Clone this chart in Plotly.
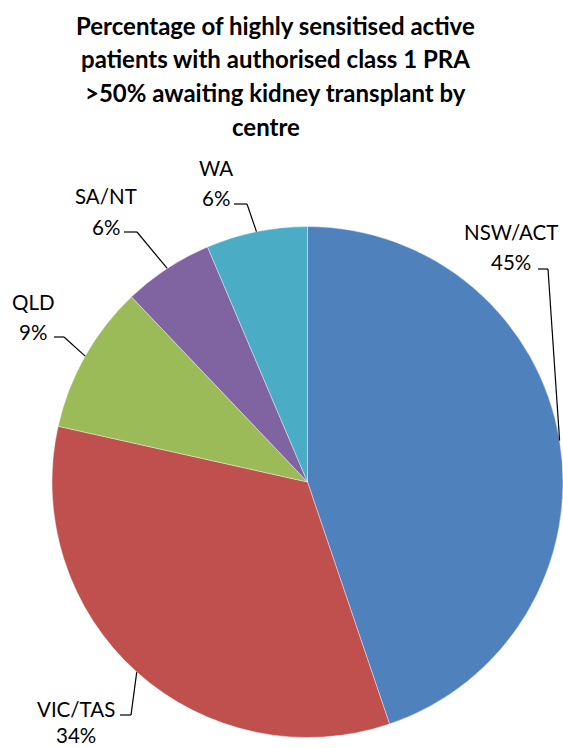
import math
import plotly.graph_objects as go

# ---- data ----
centres = ["NSW/ACT", "VIC/TAS", "QLD", "SA/NT", "WA"]
shares = [44.8, 33.7, 9.4, 5.7, 6.4]
colors = ["#4F81BD", "#C0504D", "#9BBB59", "#8064A2", "#4BACC6"]
title_lines = ["Percentage of highly sensitised active",
               "patients with authorised class 1 PRA",
               ">50% awaiting kidney transplant by",
               "centre"]

W, H = 563, 748
FONT = "Lato"

# pie domain in pixels
dom_left, dom_right = 52, 563
dom_top, dom_bottom = 224, 740
cx = (dom_left + dom_right) / 2
cy = (dom_top + dom_bottom) / 2
r = min(dom_right - dom_left, dom_bottom - dom_top) / 2

def px(x):
    return x / W

def py(y):
    return 1 - y / H

fig = go.Figure(go.Pie(
    labels=centres, values=shares, sort=False, direction="clockwise",
    rotation=0, textinfo="none", hoverinfo="label+percent",
    marker=dict(colors=colors, line=dict(color="rgba(255,255,255,0.55)", width=0.7)),
    domain=dict(x=[px(dom_left), px(dom_right)], y=[py(dom_bottom), py(dom_top)]),
    showlegend=False,
))

# label placement (pixel positions: name centre, pct centre, elbow y, horizontal start/end x)
label_pos = {
    "NSW/ACT": dict(tx=511, ny=232, pcy=262, ey=269, hx0=538, hx1=548),
    "VIC/TAS": dict(tx=76, ny=709, pcy=735, ey=715, hx0=120, hx1=131),
    "QLD": dict(tx=33, ny=302, pcy=332, ey=337, hx0=54, hx1=64),
    "SA/NT": dict(tx=106, ny=196, pcy=227, ey=232, hx0=124, hx1=137),
    "WA": dict(tx=216, ny=168, pcy=198, ey=204, hx0=234, hx1=247),
}

total = sum(shares)
cum = 0.0
annotations = []
shapes = []
for name, v in zip(centres, shares):
    theta = 2 * math.pi * (cum + v / 2) / total
    cum += v
    ax_ = cx + r * math.sin(theta)
    ay_ = cy - r * math.cos(theta)
    p = label_pos[name]
    pct = f"{round(100 * v / total)}%"
    annotations.append(dict(x=px(p["tx"]), y=py(p["ny"]), xref="paper", yref="paper",
                            text=name, showarrow=False, xanchor="center", yanchor="middle",
                            font=dict(family=FONT, size=20.5, color="#000")))
    annotations.append(dict(x=px(p["tx"]), y=py(p["pcy"]), xref="paper", yref="paper",
                            text=pct, showarrow=False, xanchor="center", yanchor="middle",
                            font=dict(family=FONT, size=20.5, color="#000")))
    shapes.append(dict(type="line", xref="paper", yref="paper",
                       x0=px(p["hx0"]), y0=py(p["ey"]), x1=px(p["hx1"]), y1=py(p["ey"]),
                       line=dict(color="#000", width=1.2)))
    shapes.append(dict(type="line", xref="paper", yref="paper",
                       x0=px(p["hx1"]), y0=py(p["ey"]), x1=px(ax_), y1=py(ay_),
                       line=dict(color="#000", width=1.2)))

title_y = [25, 59, 93, 126]
title_x = [275, 275, 275, 266]
for t, ty, tx in zip(title_lines, title_y, title_x):
    annotations.append(dict(x=px(tx), y=py(ty), xref="paper", yref="paper", text=f"<b>{t}</b>",
                            showarrow=False, xanchor="center", yanchor="middle",
                            font=dict(family=FONT, size=24, color="#000")))

fig.update_layout(width=W, height=H, margin=dict(l=0, r=0, t=0, b=0),
                  paper_bgcolor="white", plot_bgcolor="white",
                  annotations=annotations, shapes=shapes)

fig.write_html("out.html", config={"displayModeBar": False},
               post_script="document.body.style.margin='0';document.body.style.overflow='hidden';")
